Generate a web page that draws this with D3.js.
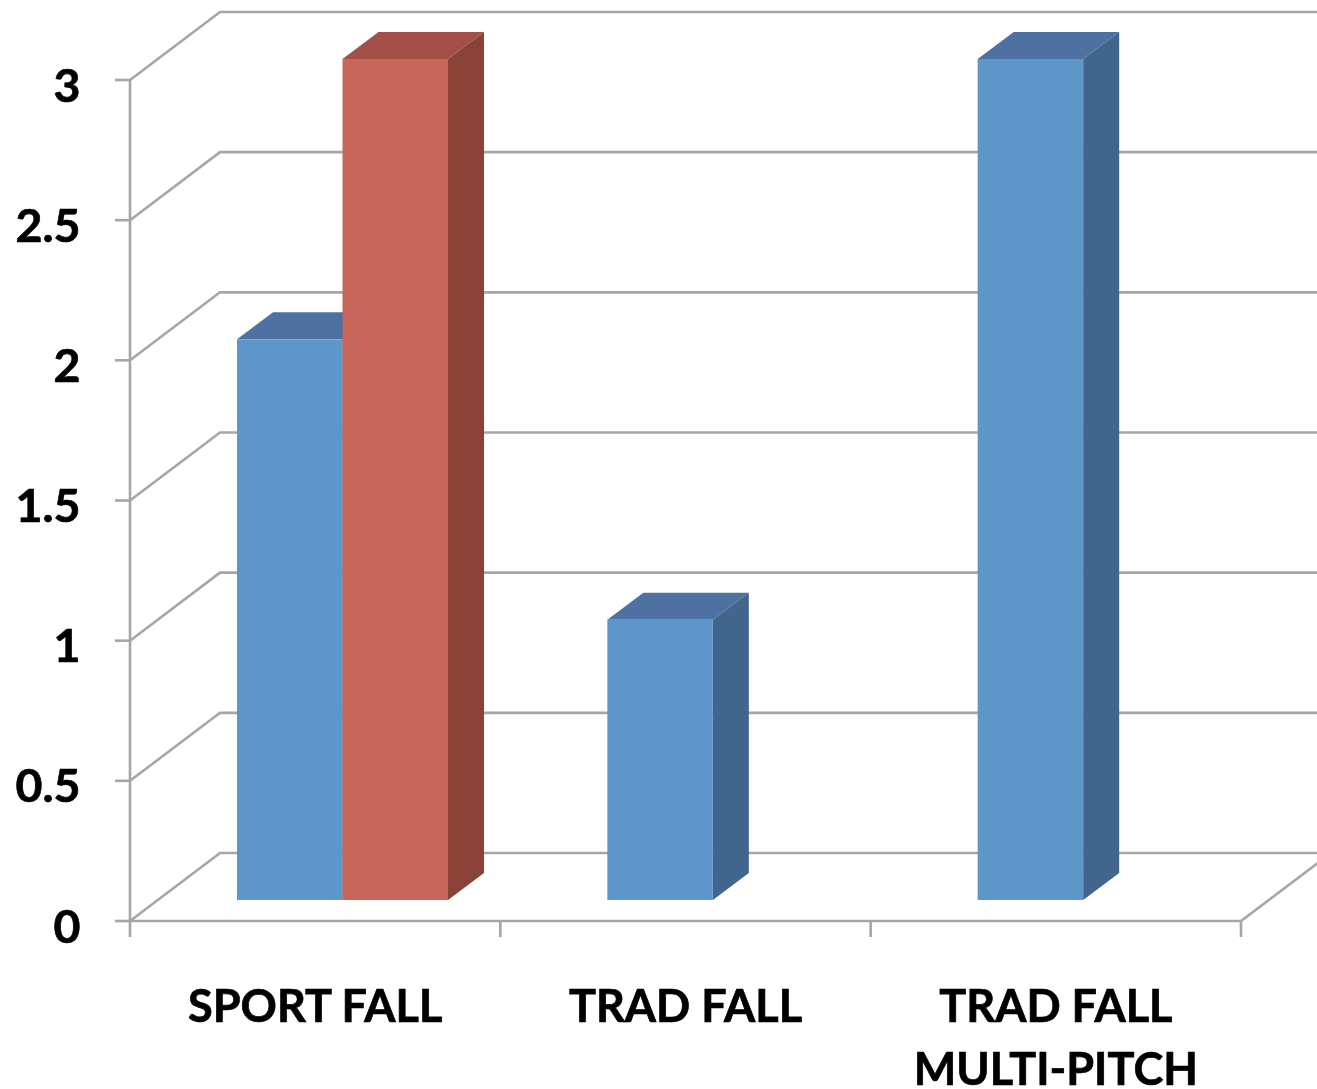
<!DOCTYPE html>
<html><head><meta charset="utf-8">
<script src="https://cdn.jsdelivr.net/npm/d3@7"></script>
<style>
html,body{margin:0;padding:0;background:#fff;overflow:hidden}
svg{display:block}
text{font-family:Lato,"Noto Sans",sans-serif;font-weight:700;fill:#000}
</style></head><body>
<svg id="chart" width="1317" height="1089"></svg>
<script>
const categories = ["SPORT FALL", "TRAD FALL", "TRAD FALL|MULTI-PITCH"];
const seriesNames = ["Series 1", "Series 2"];
const series1 = [2, 1, 3];
const series2 = [3, 0, 0];
const yTicks = [0, 0.5, 1, 1.5, 2, 2.5, 3];
const seriesColors = [
  {front:"#5E96CA", top:"#4D71A0", side:"#42658E"},
  {front:"#C9665C", top:"#A44F47", side:"#8A4239"}
];

const W = 1317, H = 1089;
const grid = "#A6A6A6", gridW = 2.6;
const depth = {x:90, y:-68};       // wall depth
const barDepth = {x:36, y:-27};    // bar depth
const lift = -21;                  // bar front sits inside the floor
const fontSize = 45;

const root = d3.select("#chart");
root.append("defs").append("filter").attr("id","soft")
  .attr("x",0).attr("y",0).attr("width","100%").attr("height","100%")
  .attr("filterUnits","userSpaceOnUse")
  .append("feGaussianBlur").attr("stdDeviation",0.5);
const svg = root.append("g").attr("filter","url(#soft)");
svg.append("rect").attr("width",W).attr("height",H).attr("fill","#fff");

const y = d3.scaleLinear().domain([0,3]).range([921,80]);
const x = d3.scaleBand().domain(categories).range([130,1241]).paddingInner(0).paddingOuter(0);
const xs = d3.scaleBand().domain(seriesNames).range([107,318]);

// gridlines on side and back walls
const g = svg.append("g").attr("fill","none").attr("stroke",grid).attr("stroke-width",gridW);
g.selectAll("path.gl").data(yTicks).join("path").attr("class","gl")
  .attr("d", d => d3.line()([[x.range()[0],y(d)],[x.range()[0]+depth.x,y(d)+depth.y],[W+5,y(d)+depth.y]]));
// right floor edge
g.append("path").attr("d", d3.line()([[x.range()[1],y(0)],[x.range()[1]+depth.x,y(0)+depth.y]]));
// x baseline and category edge ticks
g.append("line").attr("x1",x.range()[0]).attr("x2",x.range()[1]).attr("y1",y(0)).attr("y2",y(0));
const edges = categories.map(c=>x(c)).concat(x.range()[1]);
g.selectAll("line.et").data(edges).join("line").attr("class","et")
  .attr("x1",d=>d).attr("x2",d=>d).attr("y1",y(0)).attr("y2",y(0)+16);

// y axis
const yAxis = svg.append("g").attr("transform","translate(130,0)")
  .call(d3.axisLeft(y).tickValues(yTicks).tickFormat(d=>String(d)).tickSize(15).tickPadding(35).offset(0));
yAxis.selectAll("path,line").attr("stroke",grid).attr("stroke-width",gridW);
yAxis.select("path").attr("d", `M0,${y(3)}V${y(0)}`);
yAxis.selectAll("text").attr("font-size",fontSize+1.5).attr("font-family",'Lato').attr("fill","#000")
  .attr("stroke","#000").attr("stroke-width",0.7).attr("dy",null).attr("x",-49.5)
  .attr("y",21.5);

// bars
[series1, series2].forEach((vals,si) => {
  const c = seriesColors[si];
  categories.forEach((cat,ci) => {
    const v = vals[ci];
    if (!v) return;
    const x0 = x(cat) + xs(seriesNames[si]), w = xs.bandwidth();
    const t = y(v)+lift, b = y(0)+lift;
    const bar = svg.append("g");
    bar.append("path").attr("fill",c.top)
      .attr("d", d3.line()([[x0,t],[x0+barDepth.x,t+barDepth.y],[x0+w+barDepth.x,t+barDepth.y],[x0+w,t]])+"Z");
    bar.append("path").attr("fill",c.side)
      .attr("d", d3.line()([[x0+w,t],[x0+w+barDepth.x,t+barDepth.y],[x0+w+barDepth.x,b+barDepth.y],[x0+w,b]])+"Z");
    bar.append("rect").attr("fill",c.front).attr("x",x0).attr("y",t).attr("width",w).attr("height",b-t);
  });
});

// category labels
const xAxis = svg.append("g").attr("transform",`translate(0,${y(0)})`)
  .call(d3.axisBottom(x).tickSize(0).tickPadding(0).offset(0));
xAxis.select(".domain").remove();
xAxis.selectAll("text").each(function(d){
  const t = d3.select(this).text(null).attr("font-size",fontSize).attr("font-family",'Lato').attr("fill","#000")
    .attr("stroke","#000").attr("stroke-width",0.7)
    .attr("y",101).attr("dy",null);
  d.split("|").forEach((s,i)=>t.append("tspan").attr("x",0).attr("dy",i?63:0).text(s));
});
</script>
</body></html>
